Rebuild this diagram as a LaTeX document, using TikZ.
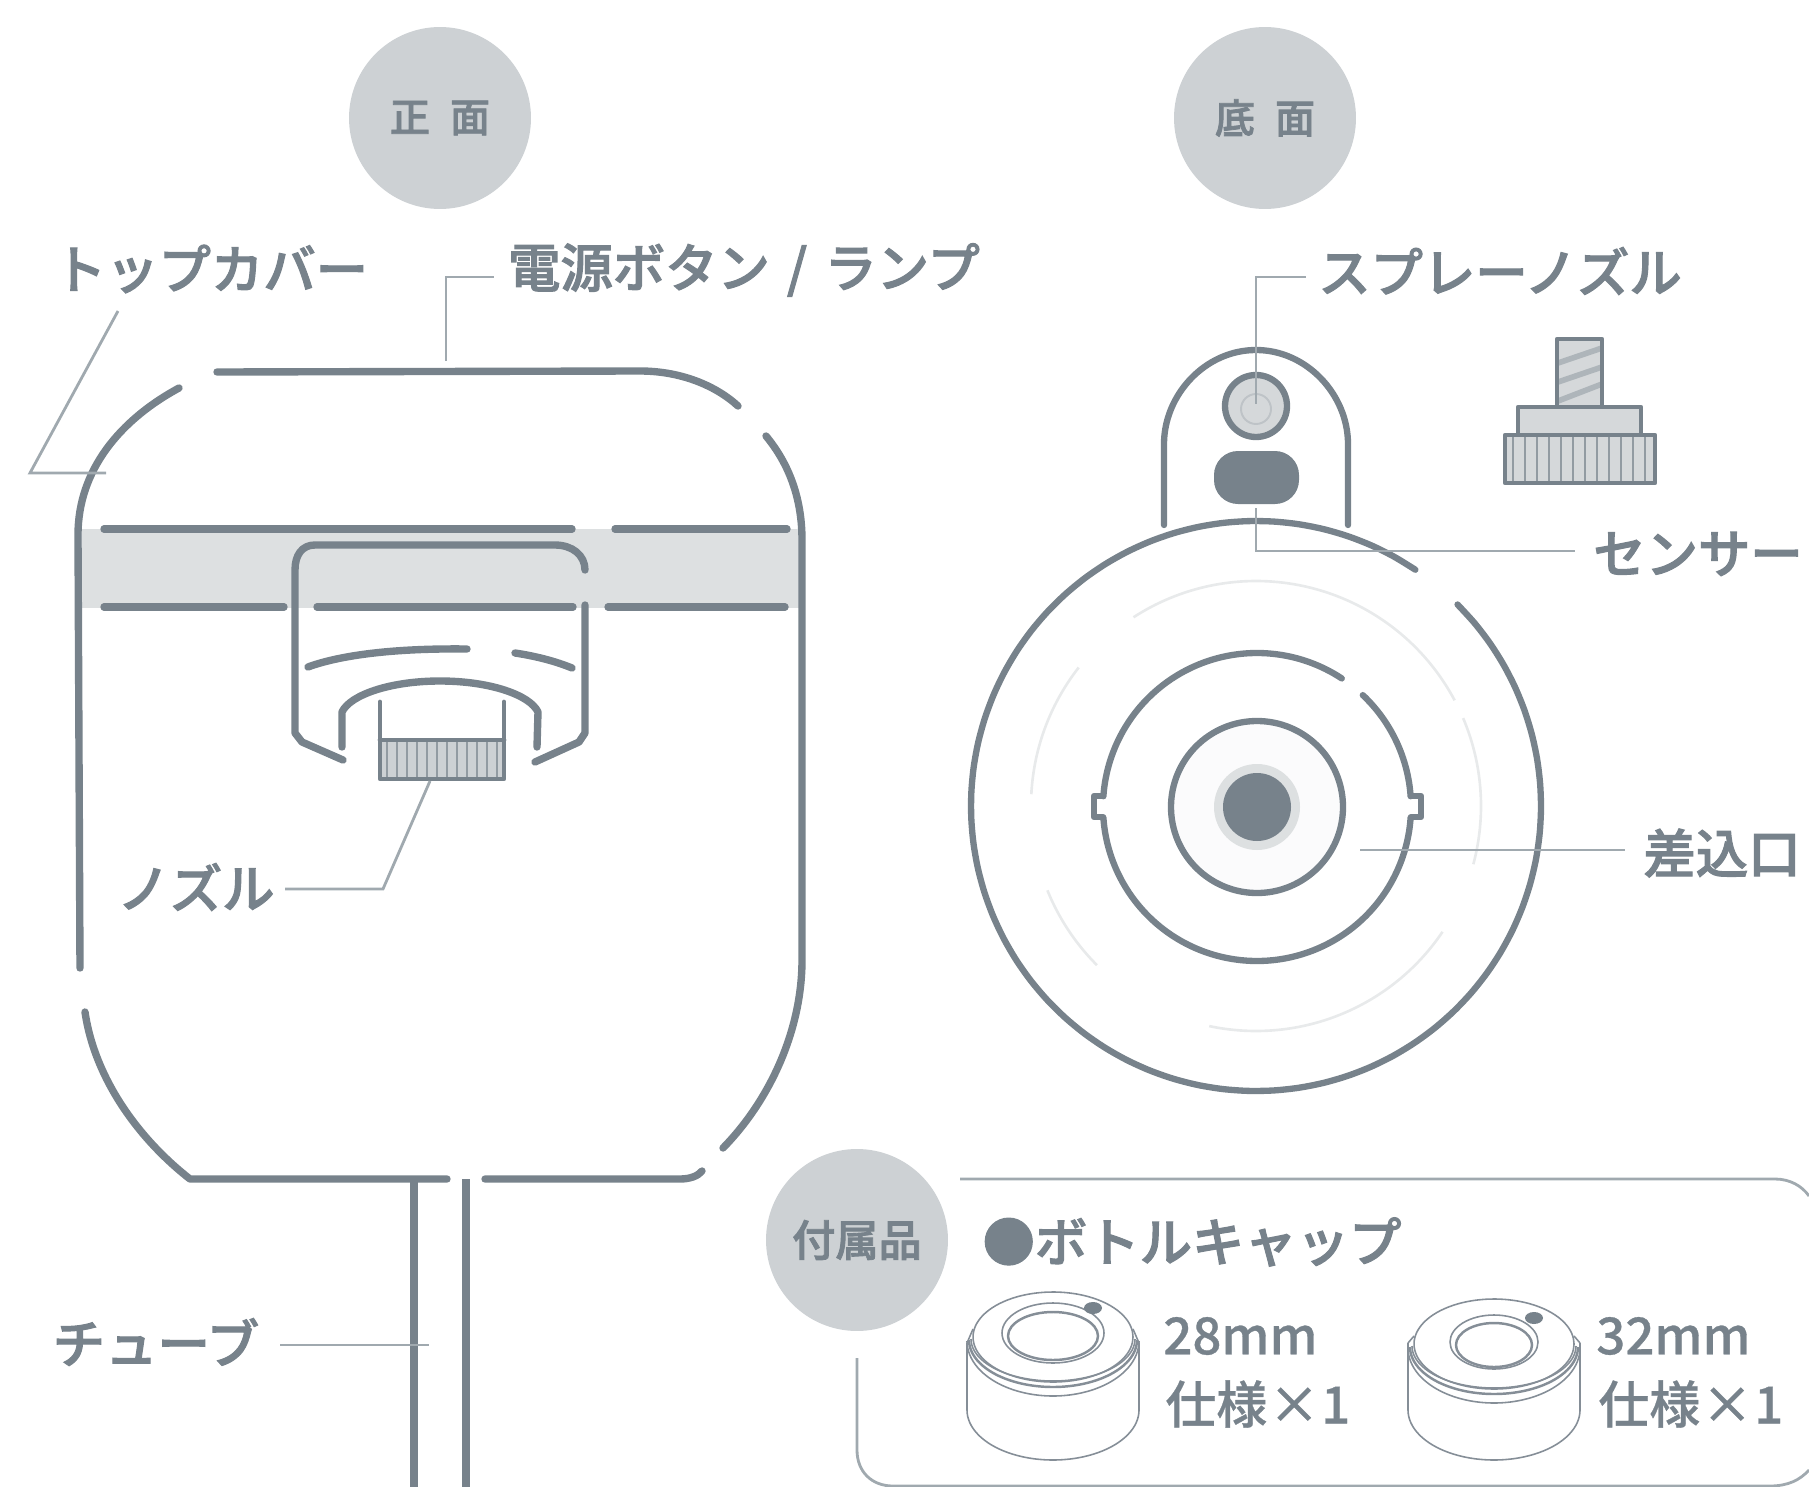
\documentclass[tikz,border=0pt]{standalone}
\usepackage{fontspec}
\setmainfont{Noto Sans CJK JP}
\newfontfamily\jpm[FakeBold=0.6]{Noto Sans CJK JP Medium}
\newfontfamily\jpb[FakeBold=2]{Noto Sans CJK JP Medium}
\definecolor{ink}{HTML}{77828B}
\definecolor{disc}{HTML}{CDD1D4}
\definecolor{band}{HTML}{DDE0E1}
\definecolor{leader}{HTML}{A0A9AF}
\definecolor{faint}{HTML}{E8EAEB}
\definecolor{soft}{HTML}{D5D8DA}
\definecolor{thread}{HTML}{AEB5BA}
\newcommand\arcp[5]{plot[domain=#4:#5,samples=70,smooth] ({#1+#3*cos(\x)},{#2-#3*sin(\x)})}
\newcommand\elp[6]{plot[domain=#5:#6,samples=50,smooth] ({#1+#3*cos(\x)},{#2-#4*sin(\x)})}
\newcommand\fsz[1]{\fontsize{#1}{#1}\selectfont}
\newcommand\capdraw[7]{% cx, cyTop, rx hole, ry hole, cy hole, inner ry, mark y
  \begin{scope}[capline]
   \draw (#1-86,1343) -- (#1-86,1410);
   \draw (#1+86,1343) -- (#1+86,1410);
   \draw \elp{#1}{1410}{86}{50}{180}{360};
   \draw \elp{#1}{#2}{80}{45}{0}{360};
   \draw (#1-86,1343) -- (#1-80,#2-8) (#1+86,1343) -- (#1+80,#2-8);
   \draw \elp{#1}{#2+2}{82}{42}{180}{360};
   \draw[line width=1.4pt] \elp{#1}{#2+3}{84}{47}{180}{360};
   \draw \elp{#1}{#2+4}{86}{55}{180}{360};
   \draw (#1,#5) circle[x radius=#3,y radius=#4];
   \draw[line width=1.4pt] (#1,#5+3) circle[x radius=#3-6,y radius=#6];
   \fill[ink] (#1+40,#7) circle[x radius=9,y radius=6];
  \end{scope}}
\tikzset{
  x=0.02cm,y=-0.02cm,
  body/.style={draw=ink,line width=4.2pt,line cap=round,line join=round},
  round body/.style={draw=ink,line width=3.6pt,line cap=round,line join=round},
  thin body/.style={draw=ink,line width=2.7pt,line cap=round,line join=round},
  lead/.style={draw=leader,line width=1.6pt},
  capline/.style={draw=ink!90,line width=0.9pt},
  disclabel/.style={circle,fill=disc,minimum size=3.64cm,inner sep=0pt,text=ink,font=\fsz{22.8pt}\jpb},
  lab/.style={text=ink,inner sep=0pt,font=\fsz{29.8pt}\jpb},
  size/.style={text=ink,inner sep=0pt,anchor=west,font=\fsz{29pt}\jpm},
}
\begin{document}
\begin{tikzpicture}
\path[use as bounding box] (0,0) rectangle (1809,1487);
\clip (0,0) rectangle (1809,1487);
% Disc headings
\node[disclabel] (front) at (440,118) {正\hspace{0.5em}面};
\node[disclabel] (bottom) at (1265,118) {底\hspace{0.5em}面};
\node[disclabel,font=\fsz{24.6pt}\jpb] (acc) at (857,1240) {付属品};
% --- Front view
\fill[band] (81,529) rectangle (804,608);
\draw[body] (217,372) -- (640,371) .. controls (680,371) and (715,385) .. (738,406);
\draw[body] (179,388) .. controls (120,420) and (78,470) .. (78,535) -- (80,968);
\draw[body] (85,1012) .. controls (95,1080) and (140,1140) .. (190,1179) -- (447,1179);
\draw[body] (485,1179) -- (680,1179) .. controls (690,1179) and (698,1176) .. (702,1171);
\draw[body] (766,436) .. controls (790,465) and (802,500) .. (802,540) -- (802,960) .. controls (802,1030) and (770,1100) .. (723,1148);
\draw[body] (104,529) -- (572,529) (615,529) -- (787,529);
\draw[body] (104,607) -- (284,607) (317,607) -- (573,607) (608,607) -- (785,607);
% inner cap
\draw[body] (343,760) -- (302,742) -- (295,733) -- (295,570) .. controls (295,555) and (302,545) .. (315,545) -- (555,545) .. controls (572,545) and (585,555) .. (585,570);
\draw[body] (585,605) -- (585,733) -- (579,742) -- (535,762);
\draw[body] (308,667) .. controls (335,657) and (385,648) .. (467,649);
\draw[body] (515,653) .. controls (535,656) and (555,661) .. (572,668);
\draw[body] (342,747) -- (342,712) .. controls (350,695) and (390,681) .. (440,681) .. controls (490,681) and (530,695) .. (538,712) -- (537,747);
% front nozzle
\fill[disc] (380,740) rectangle (504,779);
\foreach \i in {0,...,11} \draw[draw=ink!80,line width=0.9pt] (387+\i*10,742) -- (387+\i*10,778);
\draw[thin body] (380,702) -- (380,779) -- (504,779) -- (504,702);
\draw[thin body] (380,740) -- (504,740);
% tube
\draw[body,line cap=butt] (414,1179) -- (414,1487) (466,1179) -- (466,1487);
% --- Bottom view
\draw[round body] (1164,525) -- (1164,444) .. controls (1164,395) and (1205,350) .. (1256,350) .. controls (1307,350) and (1348,395) .. (1348,444) -- (1348,525);
\draw[round body] \arcp{1256}{806}{285}{56}{405};
\foreach \a/\b in {28/123,142/177,202/225,258/326,-15/23}
  \draw[faint,line width=1.5pt] \arcp{1256}{806}{225}{\a}{\b};
\draw[round body] \arcp{1257}{807}{154}{56.6}{176};
\draw[round body] \arcp{1257}{807}{154}{184}{356};
\draw[round body] \arcp{1257}{807}{154}{4}{46.6};
\draw[round body] (1103,796) -- (1094,796) -- (1094,817) -- (1103,817);
\draw[round body] (1411,796) -- (1421,796) -- (1421,817) -- (1411,817);
\draw[round body,fill=white!97!ink] (1257,807) circle[radius=86];
\fill[band] (1257,807) circle[radius=43];
\fill[ink] (1257,807) circle[radius=34];
\draw[round body,fill=soft] (1256,406) circle[radius=31];
\draw[thread!60!soft,line width=1.1pt] (1256,409) circle[radius=15];
\fill[ink,rounded corners=0.48cm] (1214,451) rectangle (1299,504);
% bolt
\fill[soft] (1557,339) rectangle (1602,407);
\draw[thread,line width=3.2pt] (1558,363) -- (1602,348) (1558,382) -- (1602,367) (1558,401) -- (1602,384);
\draw[thin body] (1557,407) -- (1557,339) -- (1602,339) -- (1602,407);
\draw[thin body,fill=soft] (1518,407) rectangle (1641,435);
\fill[soft] (1505,435) rectangle (1655,483);
\foreach \i in {0,...,11} \draw[draw=ink!80,line width=1.1pt] (1513+\i*12,437) -- (1513+\i*12,481);
\draw[thin body] (1505,435) rectangle (1655,483);
% --- Accessory frame
\draw[lead] (960,1179) -- (1775,1179) .. controls (1790,1179) and (1802,1186) .. (1809,1196);
\draw[lead] (857,1358) -- (857,1450) .. controls (857,1472) and (872,1486) .. (893,1486) -- (1770,1486) .. controls (1788,1486) and (1800,1480) .. (1809,1470);
\capdraw{1053}{1337}{51}{30}{1333}{24}{1308}
\capdraw{1494}{1344}{44}{27}{1342}{22}{1318}
% --- Labels
\node[lab] (ltop) at (211,269) {トップカバー};
\node[lab] (lpower) at (744,270) {電源ボタン\hspace{0.1em} / \hspace{0.1em}ランプ};
\node[lab] (lnoz) at (196,887) {ノズル};
\node[lab] (ltube) at (156,1342) {チューブ};
\node[lab] (lspray) at (1500,271) {スプレーノズル};
\node[lab] (lsens) at (1698,554) {センサー};
\node[lab] (lport) at (1722,853) {差込口};
\node[lab] (lcap) at (1192,1242) {●ボトルキャップ};
\node[size] (s28) at (1163,1336) {28mm};
\node[size] (n28) at (1165,1404) {仕様\hspace{0.03em}×\hspace{0.03em}1};
\node[size] (s32) at (1596,1336) {32mm};
\node[size] (n32) at (1598,1404) {仕様\hspace{0.03em}×\hspace{0.03em}1};
% --- Leaders
\coordinate (a1) at (118,311); \coordinate (a2) at (30,473); \coordinate (a3) at (106,473);
\draw[lead] (a1) -- (a2) -- (a3);
\coordinate (b1) at (446,361); \coordinate (b2) at (446,277); \coordinate (b3) at (494,277);
\draw[lead] (b1) -- (b2) -- (b3);
\coordinate (c1) at (430,781); \coordinate (c2) at (383,889); \coordinate (c3) at (285,889);
\draw[lead] (c1) -- (c2) -- (c3);
\coordinate (d1) at (280,1345); \coordinate (d2) at (429,1345);
\draw[lead] (d1) -- (d2);
\coordinate (e1) at (1306,277); \coordinate (e2) at (1256,277); \coordinate (e3) at (1256,404);
\draw[lead] (e1) -- (e2) -- (e3);
\coordinate (f1) at (1256,508); \coordinate (f2) at (1256,551); \coordinate (f3) at (1575,551);
\draw[lead] (f1) -- (f2) -- (f3);
\coordinate (g1) at (1360,850); \coordinate (g2) at (1625,850);
\draw[lead] (g1) -- (g2);
\end{tikzpicture}
\end{document}
